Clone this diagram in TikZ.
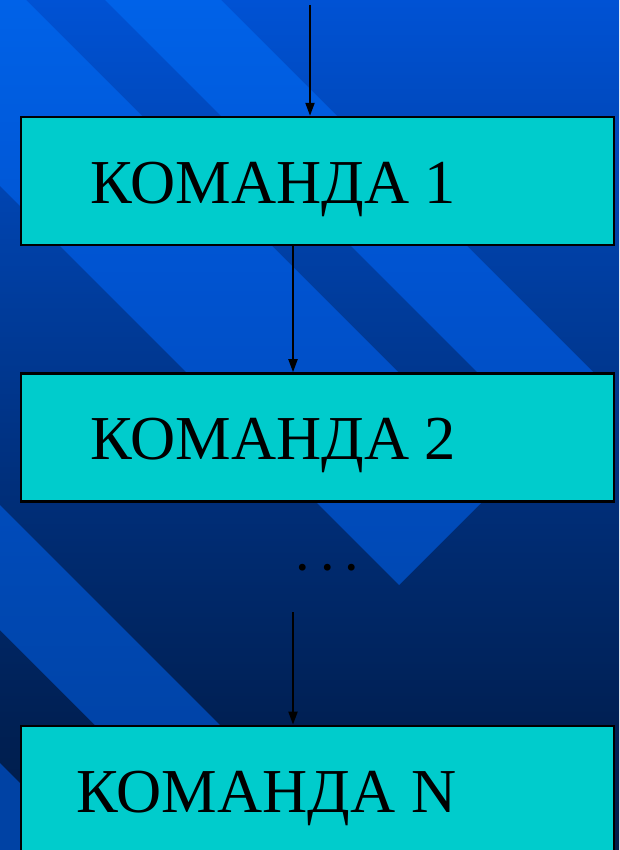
\documentclass[tikz,border=0pt]{standalone}
\usepackage{fontspec}
\setmainfont{Liberation Serif}
\usetikzlibrary{positioning,arrows.meta}
\definecolor{bgA}{HTML}{0052D4}
\definecolor{bgB}{HTML}{003C9C}
\definecolor{bgC}{HTML}{002A6E}
\definecolor{bgD}{HTML}{002054}
\definecolor{bgE}{HTML}{001C48}
\definecolor{stA}{HTML}{0062E8}
\definecolor{stB}{HTML}{0052CE}
\definecolor{stC}{HTML}{0048B2}
\definecolor{stD}{HTML}{0042A4}
\definecolor{cmdfill}{HTML}{00CCCC}
\pgfdeclareverticalshading{bgshade}{100bp}{color(0bp)=(bgE); color(25bp)=(bgE); color(32.65bp)=(bgD); color(42.06bp)=(bgC); color(57.35bp)=(bgB); color(75bp)=(bgA); color(100bp)=(bgA)}
\pgfdeclareverticalshading{stripeshade}{100bp}{color(0bp)=(stD); color(25bp)=(stD); color(29.12bp)=(stD); color(39.7bp)=(stC); color(57.35bp)=(stB); color(75bp)=(stA); color(100bp)=(stA)}
\tikzset{
	cmdbox/.style={draw=black, line width=2.4pt, fill=cmdfill, minimum width=593pt, minimum height=128pt, inner sep=0pt},
	cmdtext/.style={anchor=base east, inner sep=0pt, font=\fontsize{62.5}{68}\selectfont},
	arr/.style={line width=2pt, -{Triangle[length=13pt,width=9pt]}}
}
\begin{document}
\begin{tikzpicture}[x=1pt,y=-1pt]
	\def\wid{619}
	\def\hgt{850}
	\useasboundingbox (0,0) rectangle (\wid,\hgt);
	\clip (0,0) rectangle (\wid,\hgt);
	% background and stripes
	\shade[shading=bgshade] (0,0) rectangle (\wid,\hgt);
	\begin{scope}
		\clip (0,0) -- (26,0) -- (505,479) -- (399,585) -- (0,186) -- cycle
			(105,0) -- (221,0) -- (602.5,381.5) -- (544.5,439.5) -- cycle
			(0,505) -- (345,850) -- (220,850) -- (0,630) -- cycle
			(0,763) -- (87,850) -- (0,850) -- cycle;
		\shade[shading=stripeshade] (0,0) rectangle (\wid,\hgt);
	\end{scope}
	% commands
	\node[cmdbox] (c1) at (317.5,181) {};
	\node[cmdbox, below=126pt of c1] (c2) {};
	\node[cmdbox, below=222pt of c2] (c3) {};
	\foreach \n/\lbl in {1/1,2/2,3/N}
		\node[cmdtext] (t\n) at ([xshift=139pt,yshift=-22.5pt]c\n.center) {КОМАНДА \lbl};
	\node[anchor=base, inner sep=0pt, font=\fontsize{42}{44}\selectfont\bfseries] (dots) at (327.5,570.5) {. . .};
	\coordinate (in) at (310,5);
	\coordinate (gap) at (293,612);
	\draw[arr] (in) -- ([xshift=-7.5pt]c1.north);
	\draw[arr] ([xshift=-24.5pt]c1.south) -- ([xshift=-24.5pt]c2.north);
	\draw[arr] (gap) -- ([xshift=-24.5pt]c3.north);
\end{tikzpicture}
\end{document}
